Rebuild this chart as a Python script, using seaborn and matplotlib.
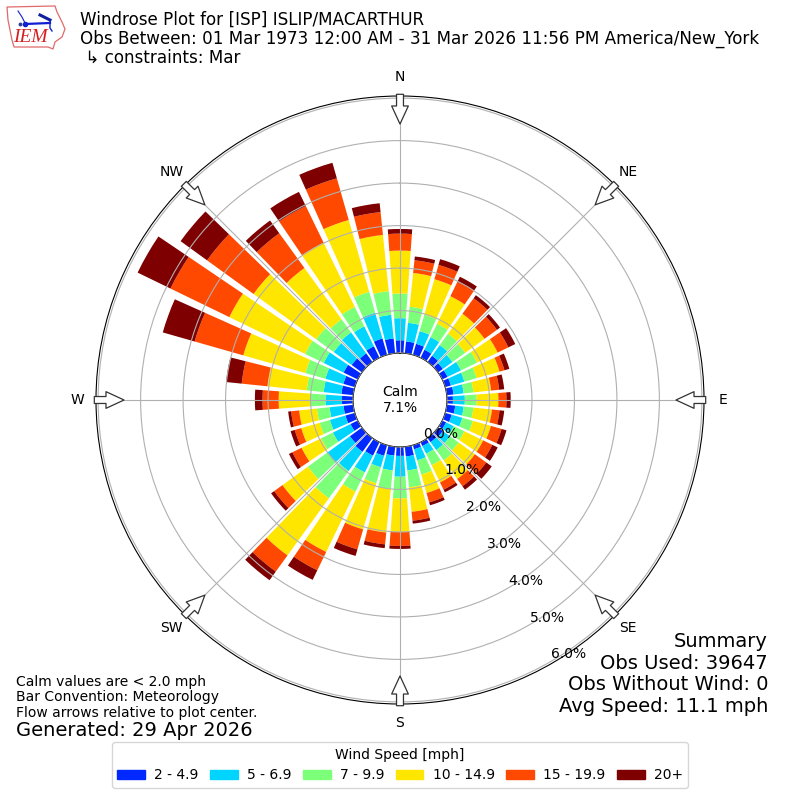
import numpy as np
import pandas as pd
import matplotlib
matplotlib.use("Agg")
import matplotlib.pyplot as plt
from matplotlib.patches import Patch, Polygon
import seaborn as sns

# wind direction (deg) and cumulative frequency (%) up to the top of each speed class
directions = [360, 10, 20, 30, 40, 50, 60, 70, 80, 90, 100, 110, 120, 130, 140, 150, 160, 170,
              180, 190, 200, 210, 220, 230, 240, 250, 260, 270, 280, 290, 300, 310, 320, 330, 340, 350]
upto_4_9 = [.30, .28, .27, .21, .18, .14, .14, .14, .16, .14, .20, .16, .10, .14, .12, .10, .10, .23,
            .21, .21, .26, .35, .40, .35, .19, .23, .23, .26, .28, .28, .37, .30, .25, .30, .40, .35]
upto_6_9 = [.82, .72, .58, .54, .49, .42, .49, .47, .40, .42, .40, .42, .30, .35, .35, .30, .37, .56,
            .70, .56, .54, .79, .96, 1.0, .65, .61, .56, .65, .70, .72, .89, .82, .86, .82, 1.03, .91]
upto_9_9 = [1.40, 1.10, .98, .89, .82, .79, .91, .77, .63, .70, .63, .68, .58, .60, .65, .60, .72, .96,
            1.21, 1.0, .93, 1.29, 1.75, 1.57, .96, .86, .86, 1.0, 1.10, 1.21, 1.38, 1.33, 1.24, 1.33, 1.54, 1.47]
upto_14_9 = [2.41, 1.90, 1.85, 1.61, 1.40, 1.35, 1.45, 1.33, 1.05, 1.21, 1.07, 1.12, 1.07, 1.07, 1.19, 1.05, 1.17, 1.54,
             2.0, 2.03, 2.06, 2.87, 3.41, 2.31, 1.47, 1.31, 1.28, 1.75, 2.03, 2.73, 3.36, 3.15, 2.73, 3.01, 3.30, 2.80]
upto_19_9 = [2.81, 2.20, 2.20, 2.0, 1.85, 1.71, 1.73, 1.45, 1.24, 1.40, 1.25, 1.38, 1.31, 1.40, 1.40, 1.24, 1.40, 1.75,
             2.33, 2.31, 2.55, 3.35, 3.88, 2.55, 1.71, 1.47, 1.47, 2.13, 2.64, 3.92, 4.90, 4.50, 3.74, 3.97, 4.32, 3.34]
upto_max = [2.92, 2.29, 2.34, 2.12, 1.94, 1.80, 1.91, 1.57, 1.36, 1.50, 1.36, 1.50, 1.45, 1.56, 1.50, 1.31, 1.47, 1.82,
            2.40, 2.40, 2.71, 3.60, 4.13, 2.64, 1.80, 1.57, 1.54, 2.31, 3.01, 4.70, 5.76, 5.27, 4.11, 4.34, 4.70, 3.55]

speed_labels = ["2 - 4.9", "5 - 6.9", "7 - 9.9", "10 - 14.9", "15 - 19.9", "20+"]
speed_colors = ["#0028ff", "#00d4ff", "#7cff79", "#ffe600", "#ff4800", "#7f0000"]
compass = ["N", "NE", "E", "SE", "S", "SW", "W", "NW"]
rings = [0, 1, 2, 3, 4, 5, 6]

tops = [upto_4_9, upto_6_9, upto_9_9, upto_14_9, upto_19_9, upto_max]

fig = plt.figure(figsize=(8, 8), dpi=100)
ax = fig.add_axes([96 / 800, 96 / 800, 608 / 800, 608 / 800], projection="polar")
ax.set_theta_zero_location("N")
ax.set_theta_direction(-1)

# stacked bars, one layer per speed class
prev = np.zeros(len(directions))
for top, color in zip(tops, speed_colors):
    df = pd.DataFrame({"theta": np.deg2rad(directions), "freq": np.array(top) - prev, "base": prev})
    df = df.sort_values("theta")
    sns.barplot(data=df, x="theta", y="freq", native_scale=True, width=0.82, color=color, saturation=1,
                errorbar=None, bottom=df["base"].values, linewidth=0, ax=ax)
    prev = np.array(top)

ax.set_xlabel("")
ax.set_ylabel("")
ax.set_xlim(0, 2 * np.pi)
ax.set_thetagrids(np.arange(0, 360, 45), compass, fontsize=10)
ax.tick_params(axis="x", pad=3)
ax.set_rgrids(rings, [f"{r:.1f}%" for r in rings], angle=150, fontsize=10)
ax.set_rlim(0, 6.05)
ax.set_rorigin(-1.106)
ax.set_axisbelow(False)
ax.grid(True, color="#b0b0b0", linewidth=0.8)

# flow arrows on the compass points
for ang in np.arange(0, 360, 45):
    ax.annotate("", xy=(np.deg2rad(ang), 5.39), xytext=(np.deg2rad(ang), 6.09), annotation_clip=False,
                arrowprops=dict(width=5, headwidth=12, headlength=13, shrink=0, facecolor="white",
                                edgecolor="#333333", linewidth=0.9), zorder=6)

ax.text(0, -1.106, "Calm\n7.1%", ha="center", va="center", fontsize=10, zorder=7)

fig.text(80 / 800, 1 - 11 / 800, "Windrose Plot for [ISP] ISLIP/MACARTHUR\n"
         "Obs Between: 01 Mar 1973 12:00 AM - 31 Mar 2026 11:56 PM America/New_York\n"
         " \u21b3 constraints: Mar", fontsize=12.03, va="top", ha="left", linespacing=1.06)
fig.text(768 / 800, 1 - 716 / 800, "Summary\nObs Used: 39647\nObs Without Wind: 0\nAvg Speed: 11.1 mph",
         fontsize=14, ha="right", va="bottom", linespacing=1.18)
fig.text(16 / 800, 1 - 720 / 800, "Calm values are < 2.0 mph\nBar Convention: Meteorology\n"
         "Flow arrows relative to plot center.", fontsize=10, ha="left", va="bottom", linespacing=1.14)
fig.text(16 / 800, 1 - 740 / 800, "Generated: 29 Apr 2026", fontsize=14, ha="left", va="bottom")

handles = [Patch(color=c, label=s) for c, s in zip(speed_colors, speed_labels)]
fig.legend(handles=handles, title="Wind Speed [mph]", ncol=6, loc="lower center",
           bbox_to_anchor=(0.5, 12 / 800), borderaxespad=0, columnspacing=0.83, handletextpad=0.65,
           labelspacing=0.5, handlelength=2.0)

# IEM logo, pixel coordinates of the 72x56 corner
logo = fig.add_axes([0, 1 - 56 / 800, 72 / 800, 56 / 800])
logo.set_xlim(0, 72)
logo.set_ylim(56, 0)
logo.axis("off")
logo.add_patch(Polygon([(7, 7), (55, 6), (57, 12), (62, 22), (65, 29), (62, 37), (55, 42), (53, 49),
                        (48, 47), (14, 47), (12, 40), (10, 30), (8, 20)],
                       fill=False, edgecolor="#e06a6a", linewidth=0.9))
logo.plot([25, 50], [24, 23], color="#1020d0", linewidth=1.6)
logo.plot([18, 22, 25], [11, 17, 23], color="#1020d0", linewidth=0.8)
logo.plot([40, 50], [15, 20], color="#1020a0", linewidth=2.2)
logo.plot([50, 50, 52], [20, 28, 31], color="#1020d0", linewidth=1)
logo.plot([25], [24], "o", color="#1020d0", markersize=3)
logo.plot([20], [24], "o", color="#304090", markersize=1.8)
logo.text(30, 38, "IEM", color="#d62020", fontsize=14, family="Liberation Serif", style="italic",
          ha="center", va="center")

plt.savefig("out.png", dpi=100)
